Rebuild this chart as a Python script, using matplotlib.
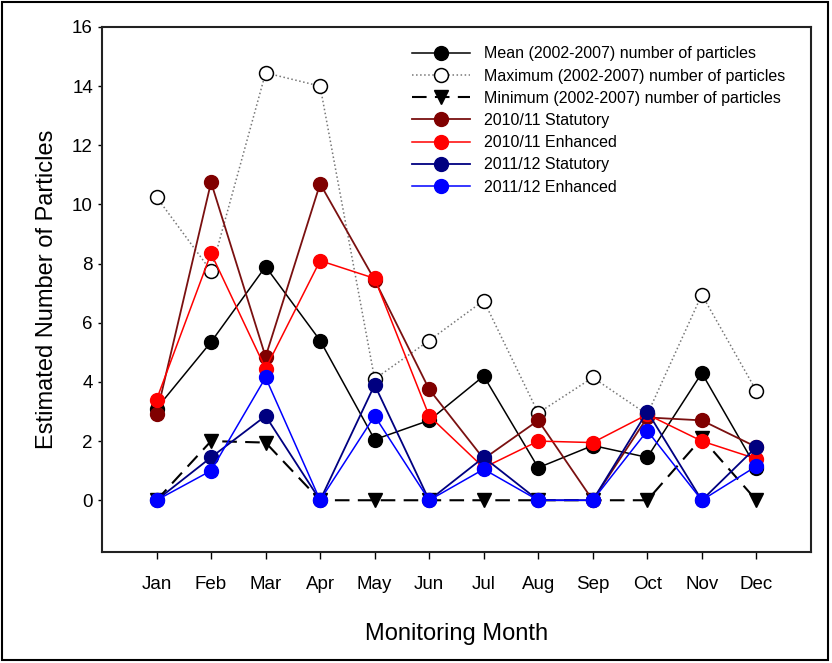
import numpy as np
import matplotlib
matplotlib.use('Agg')
import matplotlib.pyplot as plt
from matplotlib.patches import Rectangle

plt.rcParams['font.family'] = ['Liberation Sans', 'DejaVu Sans']

months = ['Jan', 'Feb', 'Mar', 'Apr', 'May', 'Jun', 'Jul', 'Aug', 'Sep', 'Oct', 'Nov', 'Dec']
mean_0207 = [3.1, 5.35, 7.9, 5.4, 2.05, 2.7, 4.2, 1.1, 1.85, 1.45, 4.3, 1.1]
max_0207 = [10.25, 7.75, 14.45, 14.0, 4.1, 5.4, 6.75, 2.95, 4.15, 2.9, 6.95, 3.7]
min_0207 = [0, 2.0, 1.95, 0, 0, 0, 0, 0, 0, 0, 2.1, 0]
stat_1011 = [2.9, 10.75, 4.85, 10.7, 7.45, 3.75, 1.4, 2.7, 0, 2.8, 2.7, 1.8]
enh_1011 = [3.4, 8.35, 4.45, 8.1, 7.5, 2.85, 1.1, 2.0, 1.95, 2.9, 2.0, 1.4]
stat_1112 = [0, 1.45, 2.85, 0, 3.9, 0, 1.45, 0, 0, 3.0, 0, 1.8]
enh_1112 = [0, 1.0, 4.15, 0, 2.85, 0, 1.05, 0, 0, 2.35, 0, 1.15]

x = np.arange(1, len(months) + 1)

fig = plt.figure(figsize=(8.32, 6.63), dpi=100)
ax = fig.add_axes([0.1226, 0.1674, 0.852, 0.7919])

ms = 10
ax.plot(x, mean_0207, '-o', color='black', lw=1.1, ms=ms,
        label='Mean (2002-2007) number of particles')
ax.plot(x, max_0207, ':o', color='#777777', lw=1.1, ms=ms, mfc='white', mec='black',
        mew=1.1, label='Maximum (2002-2007) number of particles')
ax.plot(x, min_0207, '--v', color='black', lw=1.5, ms=ms, dashes=(7, 4),
        label='Minimum (2002-2007) number of particles')
ax.plot(x, stat_1011, '-o', color='#7a1010', mfc='#800000', mec='#800000', lw=1.3, ms=ms,
        label='2010/11 Statutory')
ax.plot(x, enh_1011, '-o', color='#ff0000', lw=1.1, ms=ms, label='2010/11 Enhanced')
ax.plot(x, stat_1112, '-o', color='#000080', lw=1.3, ms=ms, label='2011/12 Statutory')
ax.plot(x, enh_1112, '-o', color='#0000ff', lw=1.1, ms=ms, label='2011/12 Enhanced')

ax.set_xlim(0, 13)
ax.set_ylim(-1.75, 16)
ax.set_xticks(x)
ax.set_xticklabels(months)
ax.set_yticks(np.arange(0, 17, 2))
ax.tick_params(axis='both', direction='out', labelsize=13.5, length=5, width=1)
ax.tick_params(axis='x', pad=12)
ax.tick_params(axis='y', length=3)
for s in ax.spines.values():
    s.set_linewidth(1.5)
    s.set_color('#222222')

ax.set_xlabel('Monitoring Month', fontsize=17, labelpad=22)
ax.set_ylabel('Estimated Number of Particles', fontsize=17, labelpad=10)

ax.legend(loc='upper left', bbox_to_anchor=(0.429, 0.975), frameon=False, fontsize=11.5,
          handlelength=3.6, handletextpad=0.9, labelspacing=0.45, borderaxespad=0)

fig.patches.append(Rectangle((0.003, 0.004), 0.992, 0.993, transform=fig.transFigure,
                             fill=False, edgecolor='black', lw=1.5))

fig.savefig('out.png', dpi=100)
